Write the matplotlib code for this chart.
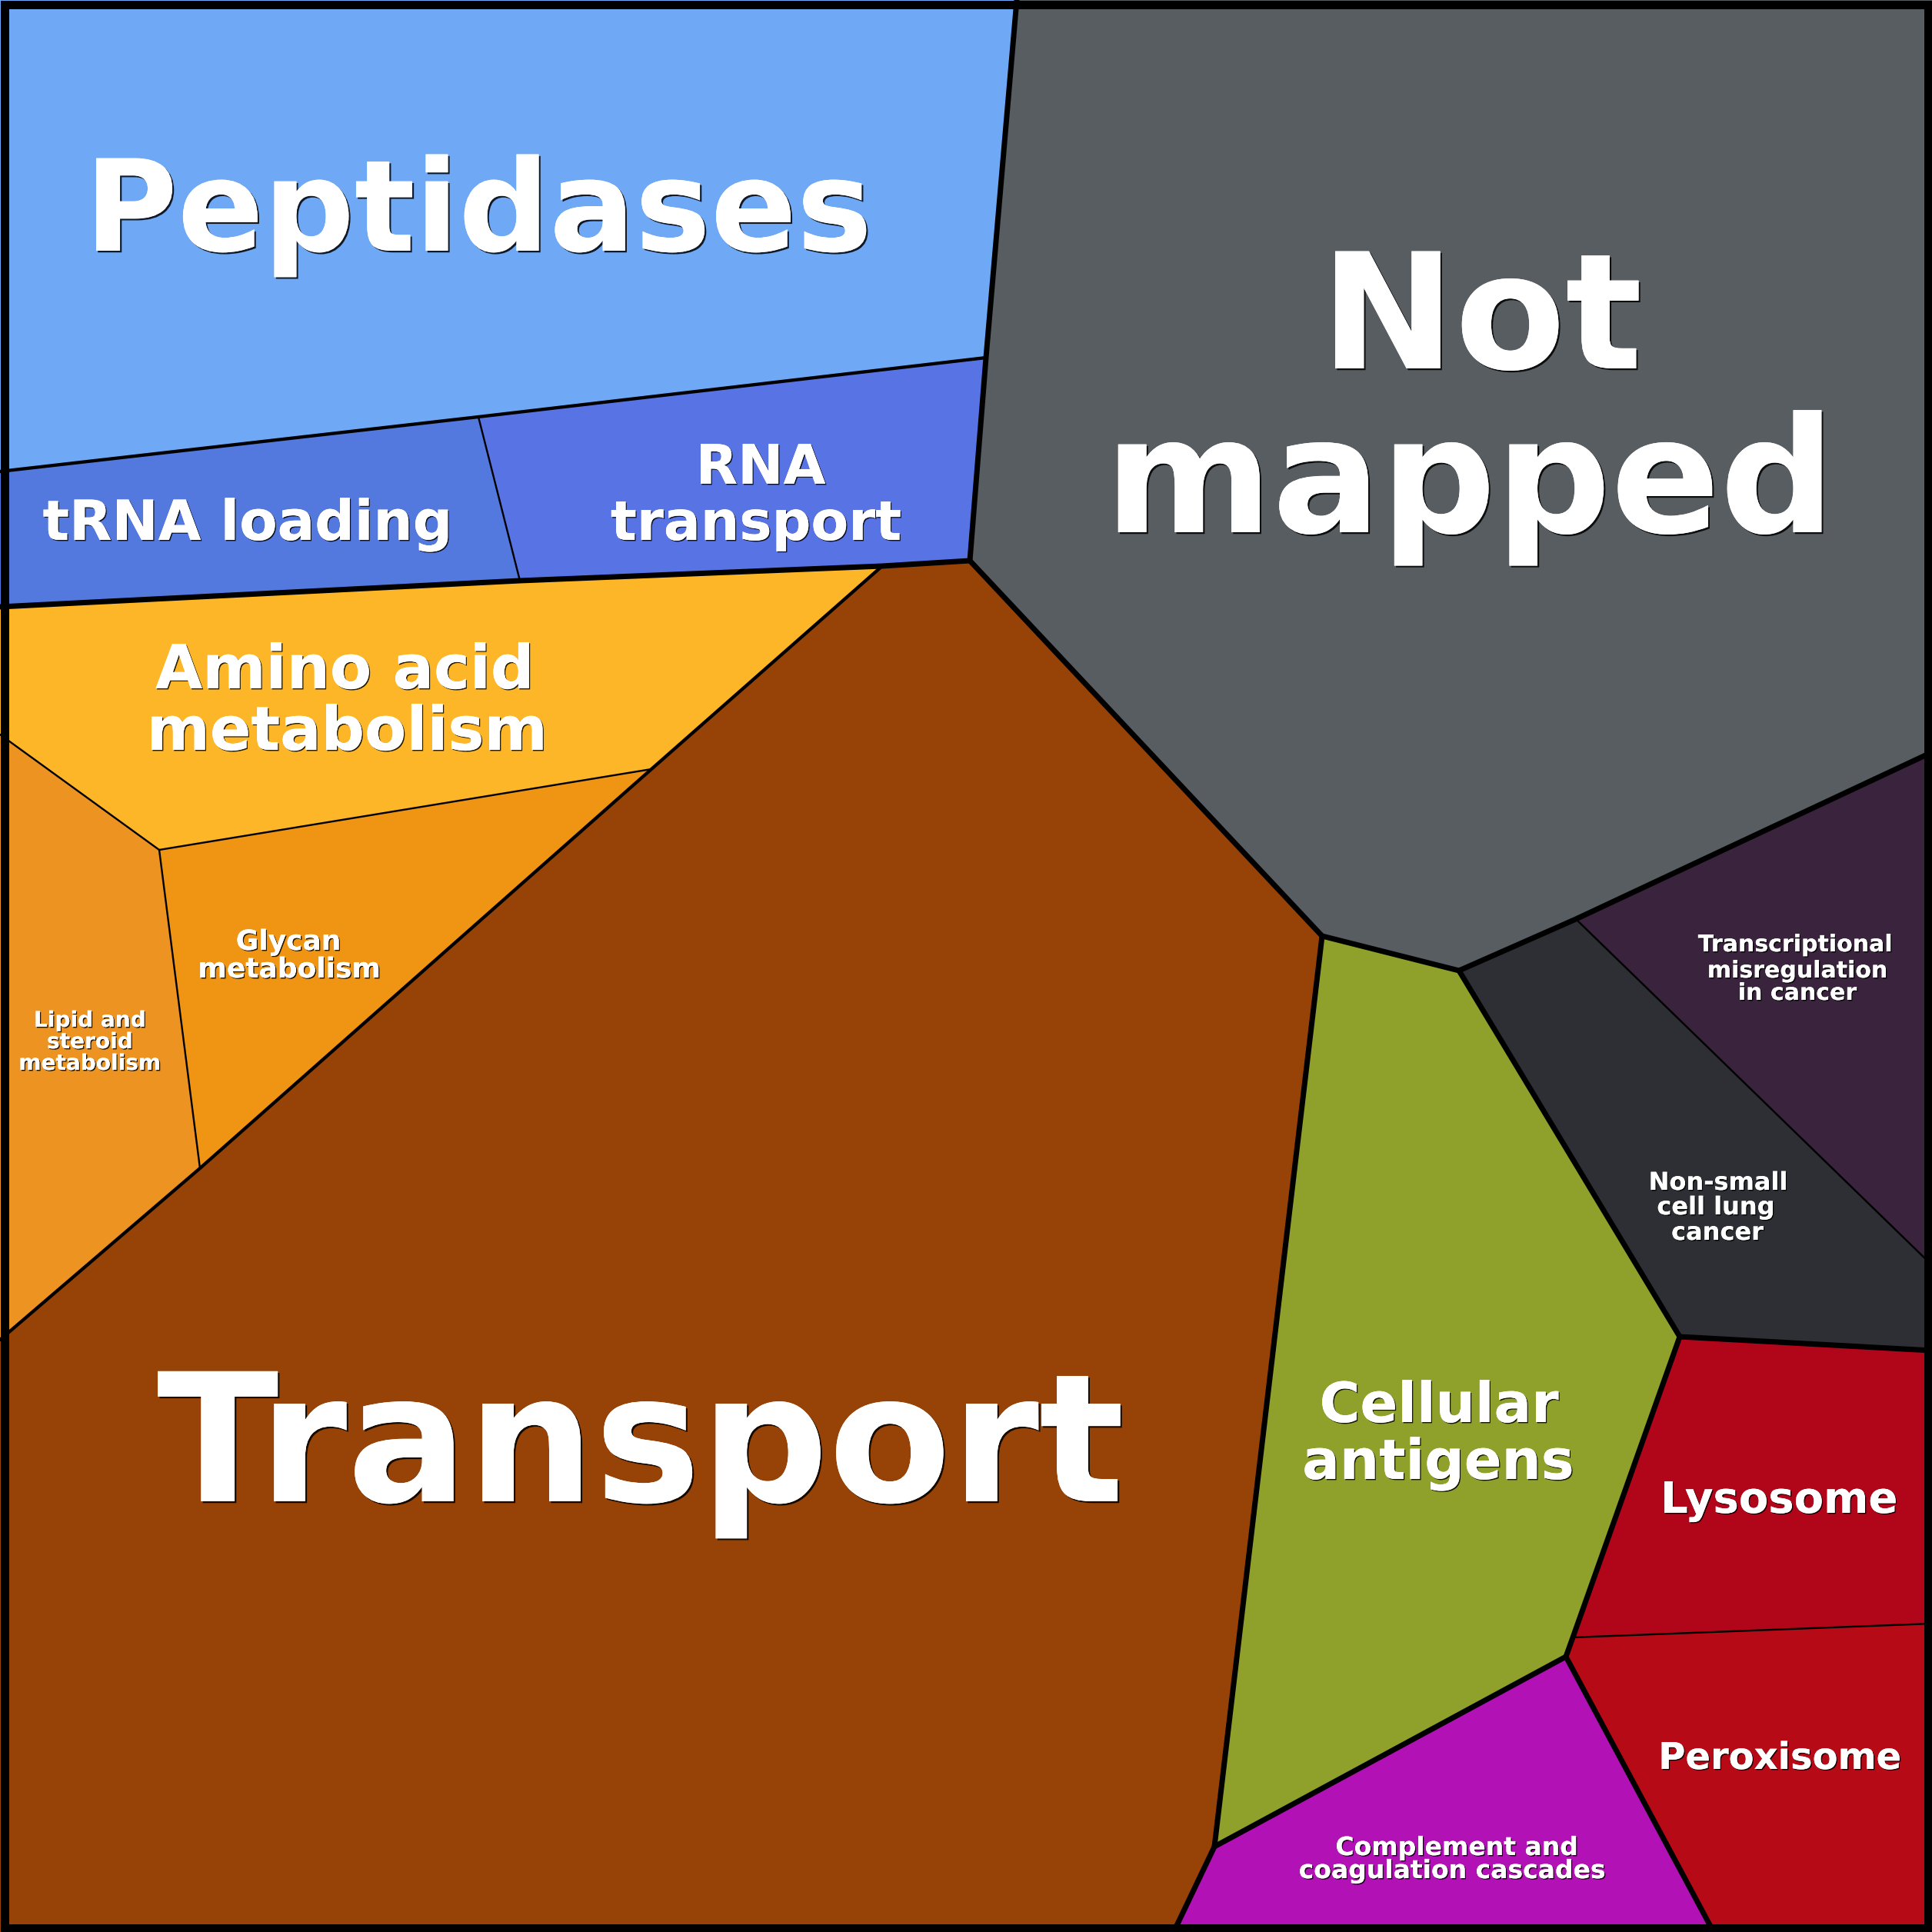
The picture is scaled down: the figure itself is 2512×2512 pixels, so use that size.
import matplotlib
matplotlib.use("Agg")
import matplotlib.pyplot as plt
from matplotlib.patches import Polygon, Rectangle
import matplotlib.patheffects as pe

# ---------------- data ----------------
# Voronoi-treemap vertices (canvas pixel space of the 2512x2512 picture, y downward)
vertex_names = ["TL", "TR", "BR", "BL", "A", "B", "C", "D", "E", "F", "G", "H", "I", "J",
                "K", "L", "M", "N", "O", "P", "Q", "R", "S", "T", "U", "U2", "V", "W", "X", "Y"]
vertex_x = [0, 2512, 2512, 0, 1322, 1282, 622, 0, 1261, 676, 0, 1147, 847, 207,
            0, 260, 0, 1719, 1897, 2049, 2512, 2512, 2184, 2512, 2045, 2036, 2512, 1579, 1526, 2228]
vertex_y = [0, 0, 2512, 2512, 0, 465, 542, 613, 729, 755, 789, 736, 1000, 1105,
            955, 1519, 1742, 1217, 1262, 1195, 978, 1645, 1738, 1756, 2129, 2154, 2111, 2401, 2512, 2512]

categories = ["Peptidases", "tRNA loading", "RNA transport", "Not mapped",
              "Amino acid metabolism", "Glycan metabolism", "Lipid and steroid metabolism",
              "Transport", "Cellular antigens", "Transcriptional misregulation in cancer",
              "Non-small cell lung cancer", "Lysosome", "Peroxisome",
              "Complement and coagulation cascades"]
cell_vertices = [
    ["TL", "A", "B", "C", "D"],
    ["D", "C", "F", "G"],
    ["C", "B", "E", "H", "F"],
    ["A", "TR", "Q", "P", "O", "N", "E", "B"],
    ["G", "F", "H", "I", "J", "K"],
    ["J", "I", "L"],
    ["K", "J", "L", "M"],
    ["M", "L", "I", "H", "E", "N", "W", "X", "BL"],
    ["N", "O", "S", "U", "U2", "W"],
    ["P", "Q", "R"],
    ["O", "P", "R", "T", "S"],
    ["S", "T", "V", "U"],
    ["U", "V", "BR", "Y", "U2"],
    ["W", "U2", "Y", "X"],
]
cell_colors = ["#6FA9F5", "#5378DE", "#5873E4", "#585D62",
               "#FDB627", "#EF9413", "#EC9322",
               "#974206", "#8FA12A", "#3A233C",
               "#2E2F34", "#B10519", "#B70A17", "#B211B5"]

# boundaries between cells, by hierarchy level
edges_level1 = [["G", "F", "H", "E"], ["A", "B", "E"], ["E", "N", "O"], ["O", "P", "Q"],
                ["N", "W"], ["O", "S"], ["S", "T"], ["S", "U", "U2"], ["W", "U2"],
                ["U2", "Y"], ["W", "X"]]
edges_level2 = [["D", "C", "B"], ["H", "I", "L", "M"]]
edges_level3 = [["C", "F"], ["I", "J"], ["J", "K"], ["J", "L"], ["P", "R"], ["U", "V"]]

# ---------------- label layout ----------------
label_lines = [
    ["Peptidases"], ["tRNA loading"], ["RNA", "transport"], ["Not", "mapped"],
    ["Amino acid", "metabolism"], ["Glycan", "metabolism"], ["Lipid and", "steroid", "metabolism"],
    ["Transport"], ["Cellular", "antigens"], ["Transcriptional", "misregulation", "in cancer"],
    ["Non-small", "cell lung", "cancer"], ["Lysosome"], ["Peroxisome"],
    ["Complement and", "coagulation cascades"],
]
label_cx = [[622], [322], [989, 983], [1926, 1911],
            [448, 451], [375, 376], [117, 117, 117],
            [833], [1871, 1870], [2334, 2337, 2337],
            [2234, 2231, 2233], [2313], [2314],
            [1894, 1888]]
label_baseline = [[326], [702], [629, 702], [479, 692],
                  [895, 975], [1235, 1271], [1335, 1363, 1391],
                  [1952], [1849, 1923], [1237, 1271, 1300],
                  [1547, 1579, 1612], [1967], [2300],
                  [2412, 2442]]
label_em_px = [165, 72, 71, 209, 79, 36, 28, 232, 72, 30, 32, 56, 48, 33]

# ---------------- drawing ----------------
W = 2512
DPI = 100
PT = 72.0 / DPI  # points per pixel

fig = plt.figure(figsize=(W / DPI, W / DPI), dpi=DPI)
ax = fig.add_axes([0, 0, 1, 1])
ax.set_xlim(0, W)
ax.set_ylim(W, 0)
ax.axis("off")

vx = dict(zip(vertex_names, vertex_x))
vy = dict(zip(vertex_names, vertex_y))

for names, col in zip(cell_vertices, cell_colors):
    pts = [(vx[n], vy[n]) for n in names]
    ax.add_patch(Polygon(pts, closed=True, facecolor=col, edgecolor=col, lw=0.5, zorder=1))

for edges, lw_px in ((edges_level3, 2.4), (edges_level2, 4.3), (edges_level1, 7.0)):
    for e in edges:
        ax.plot([vx[n] for n in e], [vy[n] for n in e], color="black", lw=lw_px * PT,
                solid_joinstyle="round", solid_capstyle="round", zorder=3)

ax.add_patch(Rectangle((5.5, 5.5), W - 11, W - 11, fill=False, edgecolor="black",
                       lw=11 * PT, zorder=4, joinstyle="miter"))

for lines, cxs, bys, em in zip(label_lines, label_cx, label_baseline, label_em_px):
    fs = em * PT
    off = 1.0 if em < 100 else 1.6
    for txt, cx, by in zip(lines, cxs, bys):
        ax.text(cx, by, txt, ha="center", va="baseline", color="white",
                fontsize=fs, fontweight="bold", family="DejaVu Sans", zorder=5,
                path_effects=[pe.withSimplePatchShadow(offset=(off, -off),
                                                       shadow_rgbFace="black", alpha=0.85),
                              pe.Normal()])

fig.savefig("out.png", dpi=DPI)
